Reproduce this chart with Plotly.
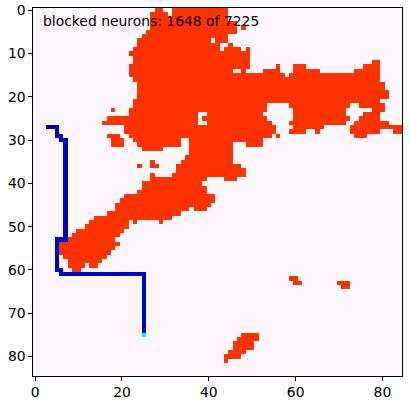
import numpy as np
import plotly.graph_objects as go

GRID_SIZE = 85
TOTAL_NEURONS = 7225
BLOCKED_LABEL = 1648

# Blocked cells per row, as inclusive (first column, last column) runs
blocked_runs = {
    0: [(28, 29), (32, 44)], 1: [(27, 30), (32, 44)], 2: [(27, 44)],
    3: [(27, 46)], 4: [(27, 46), (48, 48)], 5: [(26, 46)], 6: [(25, 44)],
    7: [(24, 40), (42, 44)], 8: [(24, 42), (45, 45)],
    9: [(23, 42), (44, 47), (49, 49)], 10: [(22, 49)], 11: [(23, 49)],
    12: [(23, 49), (78, 79)], 13: [(22, 49), (56, 56), (60, 62), (76, 79)],
    14: [(22, 45), (48, 48), (53, 56), (60, 65), (74, 79)],
    15: [(22, 57), (59, 79)], 16: [(23, 79)], 17: [(24, 80)], 18: [(24, 80)],
    19: [(24, 81)], 20: [(24, 81)], 21: [(23, 79)],
    22: [(23, 53), (59, 72), (75, 80)],
    23: [(18, 18), (22, 53), (60, 71), (78, 80)],
    24: [(22, 37), (40, 52), (60, 71), (76, 79)],
    25: [(17, 37), (39, 53), (60, 72), (75, 79)],
    26: [(16, 37), (40, 54), (59, 71), (74, 81)],
    27: [(21, 55), (60, 66), (73, 84)],
    28: [(21, 55), (59, 62), (65, 65), (73, 79), (83, 84)],
    29: [(17, 19), (22, 54), (56, 56), (74, 76)],
    30: [(18, 20), (23, 33), (36, 52)],
    31: [(18, 20), (24, 33), (36, 45), (49, 52)],
    32: [(25, 29), (36, 45)], 33: [(36, 45)], 34: [(35, 45)],
    35: [(27, 27), (34, 45)], 36: [(24, 24), (27, 28), (33, 47)],
    37: [(33, 48)], 38: [(27, 27), (32, 48)], 39: [(27, 39), (44, 46)],
    40: [(25, 38)], 41: [(25, 39)], 42: [(24, 39)], 43: [(21, 41)],
    44: [(20, 41)], 45: [(19, 40)], 46: [(19, 35), (37, 39)], 47: [(17, 33)],
    48: [(14, 31)], 49: [(13, 21), (23, 23), (29, 29)], 50: [(12, 21)],
    51: [(10, 20)], 52: [(9, 19)], 53: [(8, 18)], 54: [(6, 19)], 55: [(6, 18)],
    56: [(6, 17)], 57: [(7, 16)], 58: [(8, 15)], 59: [(8, 11), (13, 14)],
    60: [(9, 10)], 62: [(59, 60)], 63: [(60, 61), (70, 72)], 64: [(71, 72)],
    75: [(48, 51)], 76: [(47, 51)], 77: [(46, 50)], 78: [(46, 50)],
    79: [(45, 48)], 80: [(44, 47)], 81: [(44, 44)],
}

# Path cells per row, as inclusive runs
path_runs = {
    27: [(3, 5)], 28: [(5, 5)], 29: [(5, 6)], 30: [(6, 7)],
    **{r: [(7, 7)] for r in range(31, 53)},
    53: [(5, 7)], **{r: [(5, 5)] for r in range(54, 60)},
    60: [(5, 6)], 61: [(6, 25)], **{r: [(25, 25)] for r in range(62, 75)},
}
end_cell = (75, 25)

x_ticks = [0, 20, 40, 60, 80]
y_ticks = [0, 10, 20, 30, 40, 50, 60, 70, 80]

grid = np.zeros((GRID_SIZE, GRID_SIZE), dtype=int)
for row, runs in blocked_runs.items():
    for a, b in runs:
        grid[row, a:b + 1] = 1
for row, runs in path_runs.items():
    for a, b in runs:
        grid[row, a:b + 1] = 2
grid[end_cell] = 3

BG, RED, BLUE, CYAN = "#fdf7fd", "#ff3300", "#0000cc", "#00ffff"
colorscale = [
    [0.00, BG], [0.25, BG], [0.25, RED], [0.50, RED],
    [0.50, BLUE], [0.75, BLUE], [0.75, CYAN], [1.00, CYAN],
]

fig = go.Figure(go.Heatmap(
    z=grid, zmin=-0.5, zmax=3.5, colorscale=colorscale,
    showscale=False, hoverinfo="skip", zsmooth=False,
))
axis = dict(
    showgrid=False, zeroline=False, showline=True, linecolor="black",
    linewidth=1.2, mirror=True, ticks="outside", ticklen=3.5, tickwidth=1,
    automargin=False,
    tickcolor="black", tickfont=dict(family="DejaVu Sans", size=13.9, color="black"),
)
fig.update_xaxes(range=[-0.5, 84.5], tickvals=x_ticks, **axis)
fig.update_yaxes(range=[84.5, -0.5], tickvals=y_ticks, **axis)
fig.add_annotation(
    text=f"blocked neurons: {BLOCKED_LABEL} of {TOTAL_NEURONS}",
    xref="paper", yref="paper", x=0.0265, y=0.9855, xanchor="left", yanchor="top",
    showarrow=False, font=dict(family="DejaVu Sans", size=13.9, color="black"),
    borderpad=0, borderwidth=0,
)
fig.update_layout(
    width=410, height=400, autosize=False,
    margin=dict(l=33, r=8, t=7.5, b=24),
    paper_bgcolor="white", plot_bgcolor=BG,
)
fig.write_html("out.html", post_script="document.body.style.margin='0';document.body.style.overflow='hidden';",
               config={"displayModeBar": False})
